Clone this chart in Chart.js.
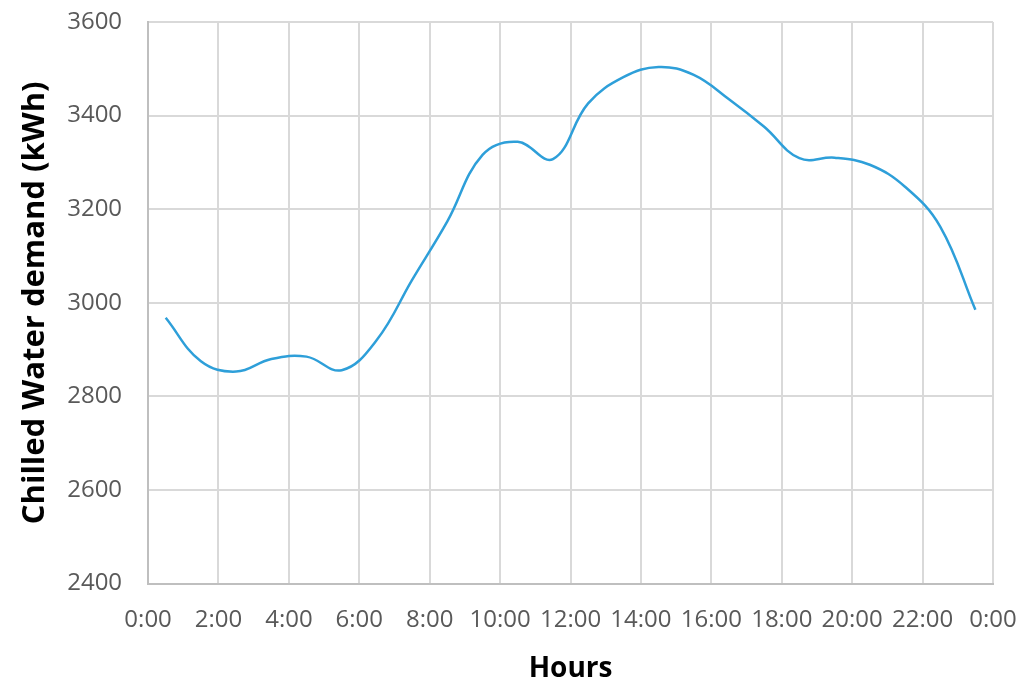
<!DOCTYPE html>
<html>
<head>
<meta charset="utf-8">
<script src="https://cdn.jsdelivr.net/npm/chart.js@4"></script>
<style>
  html, body { margin: 0; padding: 0; background: #ffffff; }
  #wrap { width: 1024px; height: 690px; }
</style>
</head>
<body>
<div id="wrap"><canvas id="c" width="1024" height="690"></canvas></div>
<script>
// Hours (half-hour points) and chilled water demand (kWh)
const hours = [0.5, 1.5, 2.5, 3.5, 4.5, 5.5, 6.5, 7.5, 8.5, 9.5, 10.5, 11.5,
               12.5, 13.5, 14.5, 15.5, 16.5, 17.5, 18.5, 19.5, 20.5, 21.5, 22.5, 23.5];
const demand = [2968, 2875, 2853, 2880, 2885, 2856, 2921, 3049, 3174, 3316, 3344, 3307,
                3426, 3482, 3504, 3487, 3435, 3376, 3309, 3310, 3295, 3248, 3163, 2985];
const xTickValues = [0, 2, 4, 6, 8, 10, 12, 14, 16, 18, 20, 22, 24];
const yTickValues = [2400, 2600, 2800, 3000, 3200, 3400, 3600];
const xTitle = 'Hours';
const yTitle = 'Chilled Water demand (kWh)';

const FONT = '"Open Sans", "DejaVu Sans", sans-serif';

new Chart(document.getElementById('c'), {
  type: 'line',
  data: {
    datasets: [{
      data: hours.map((h, i) => ({ x: h, y: demand[i] })),
      borderColor: '#2E9FD9',
      borderWidth: 2.5,
      pointRadius: 0,
      tension: 0.4,
      fill: false
    }]
  },
  options: {
    responsive: false,
    animation: false,
    layout: { padding: { top: 22, right: 31, bottom: 4, left: 17 } },
    plugins: { legend: { display: false }, tooltip: { enabled: false } },
    scales: {
      x: {
        type: 'linear',
        min: 0, max: 24,
        afterBuildTicks: (axis) => { axis.ticks = xTickValues.map(v => ({ value: v })); },
        afterFit: (axis) => { axis.paddingLeft = 0; axis.paddingRight = 0; },
        ticks: {
          callback: (v) => (v % 24) + ':00',
          color: '#595959',
          font: { family: FONT, size: 24 },
          padding: 22,
          maxRotation: 0,
          autoSkip: false
        },
        grid: { color: '#d9d9d9', lineWidth: 2, drawTicks: false },
        border: { color: '#bfbfbf', width: 2 },
        title: {
          display: true, text: xTitle, color: '#000000',
          font: { family: FONT, size: 28, weight: 'bold' },
          padding: { top: -4, bottom: 0 }
        }
      },
      y: {
        min: 2400, max: 3600,
        afterBuildTicks: (axis) => { axis.ticks = yTickValues.map(v => ({ value: v })); },
        afterFit: (axis) => { axis.paddingTop = 0; axis.paddingBottom = 0; },
        ticks: {
          callback: (v) => String(v),
          color: '#595959',
          font: { family: FONT, size: 24 },
          padding: 26
        },
        grid: { color: '#d9d9d9', lineWidth: 2, drawTicks: false },
        border: { color: '#bfbfbf', width: 2 },
        title: {
          display: true, text: yTitle, color: '#000000',
          font: { family: FONT, size: 31, weight: 'bold' },
          padding: { top: 0, bottom: -13 }
        }
      }
    }
  }
});
</script>
</body>
</html>
